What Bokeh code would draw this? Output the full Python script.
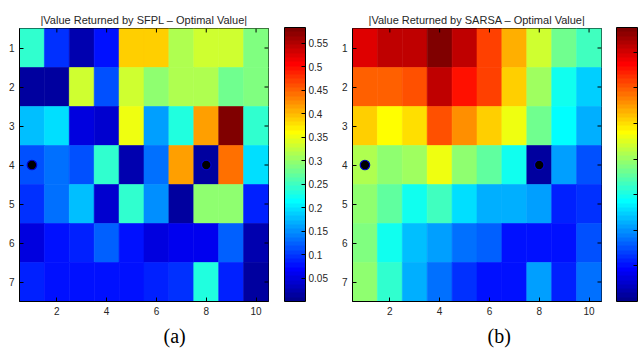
import numpy as np
from bokeh.plotting import figure
from bokeh.models import (LinearColorMapper, ColorBar, Range1d, FixedTicker,
                          Title, ColumnDataSource)
from bokeh.layouts import row
from bokeh.embed import file_html
from bokeh.resources import INLINE

# ---------------- data ----------------
cols = [1, 2, 3, 4, 5, 6, 7, 8, 9, 10]
rows_ = [1, 2, 3, 4, 5, 6, 7]

sfpl_err = [
    [0.245, 0.095, 0.020, 0.073, 0.385, 0.385, 0.315, 0.330, 0.330, 0.290],
    [0.012, 0.012, 0.330, 0.110, 0.330, 0.300, 0.315, 0.315, 0.277, 0.290],
    [0.180, 0.200, 0.047, 0.040, 0.350, 0.158, 0.233, 0.410, 0.580, 0.245],
    [0.110, 0.130, 0.115, 0.240, 0.025, 0.130, 0.415, 0.010, 0.440, 0.200],
    [0.095, 0.130, 0.175, 0.040, 0.245, 0.150, 0.010, 0.300, 0.300, 0.085],
    [0.050, 0.078, 0.090, 0.120, 0.073, 0.050, 0.060, 0.060, 0.120, 0.020],
    [0.090, 0.075, 0.075, 0.075, 0.075, 0.085, 0.095, 0.235, 0.085, 0.010],
]

sarsa_err = [
    [0.69, 0.71, 0.71, 0.77, 0.72, 0.62, 0.53, 0.44, 0.37, 0.33],
    [0.60, 0.60, 0.61, 0.72, 0.66, 0.62, 0.51, 0.40, 0.30, 0.25],
    [0.51, 0.48, 0.50, 0.61, 0.56, 0.51, 0.46, 0.37, 0.28, 0.22],
    [0.42, 0.39, 0.40, 0.46, 0.39, 0.35, 0.30, 0.02, 0.21, 0.15],
    [0.39, 0.35, 0.30, 0.33, 0.26, 0.22, 0.22, 0.21, 0.12, 0.13],
    [0.38, 0.30, 0.23, 0.21, 0.18, 0.16, 0.10, 0.10, 0.10, 0.15],
    [0.39, 0.32, 0.22, 0.18, 0.13, 0.10, 0.10, 0.21, 0.12, 0.17],
]

dot_x = [1, 8]
dot_y = [4, 4]

x_ticks = [2, 4, 6, 8, 10]
y_ticks = [1, 2, 3, 4, 5, 6, 7]

sfpl_cbar_ticks = [0.05, 0.1, 0.15, 0.2, 0.25, 0.3, 0.35, 0.4, 0.45, 0.5, 0.55]
sfpl_cbar_range = [0.0, 0.583]
sarsa_cbar_ticks = [0.1, 0.2, 0.3, 0.4, 0.5, 0.6, 0.7]
sarsa_cbar_range = [0.0, 0.77]

titles = ["|Value Returned by SFPL \u2013 Optimal Value|",
          "|Value Returned by SARSA \u2013 Optimal Value|"]
captions = ["(a)", "(b)"]


# ---------------- jet colormap (MATLAB, 64 levels) ----------------
def jet(m=64):
    n = int(np.ceil(m / 4))
    u = np.concatenate([np.arange(1, n + 1) / n, np.ones(n - 1), np.arange(n, 0, -1) / n])
    J = np.zeros((m, 3))
    off = int(np.ceil(n / 2)) - (1 if m % 4 == 1 else 0)
    for i, val in enumerate(u):
        g = off + i
        r = g + n
        b = g - n
        if 0 <= r < m:
            J[r, 0] = val
        if 0 <= g < m:
            J[g, 1] = val
        if 0 <= b < m:
            J[b, 2] = val
    return ["#%02x%02x%02x" % tuple(int(round(c * 255)) for c in rgb) for rgb in J]


JET = jet(64)
FONT = "Liberation Sans"
TXT = "#262626"

FRAME_W = 249
FRAME_H = 274
FIG_H = 352
TOP = 28
BOTTOM = FIG_H - TOP - FRAME_H
TICK_PX = 4


def panel(values, title, caption, rng, cticks, show_clabels, fig_w, left_b,
          cb_gap, cb_w, caption_offset):
    mapper = LinearColorMapper(palette=JET, low=rng[0], high=rng[1])
    xs, ys, vs = [], [], []
    for ri, r in enumerate(rows_):
        for ci, c in enumerate(cols):
            xs.append(c)
            ys.append(r)
            vs.append(values[ri][ci])
    src = ColumnDataSource(dict(x=xs, y=ys, v=vs))

    xr = Range1d(0.5, 10.5)
    yr = Range1d(7.5, 0.5)
    p = figure(width=fig_w, height=FIG_H, output_backend="svg", toolbar_location=None,
               x_range=xr, y_range=yr,
               min_border_left=left_b, min_border_right=fig_w - left_b - FRAME_W,
               min_border_top=TOP, min_border_bottom=BOTTOM)
    p.rect(x="x", y="y", width=1, height=1, source=src,
           fill_color={"field": "v", "transform": mapper},
           line_color={"field": "v", "transform": mapper}, line_width=0.6)
    p.scatter(dot_x, dot_y, size=9.5, fill_color="black", line_color="#0000c8",
              line_width=1.2)

    # inward tick marks on the top and right edges (box on)
    dx = TICK_PX / FRAME_W * (xr.end - xr.start)
    dy = TICK_PX / FRAME_H * (yr.start - yr.end)
    p.segment(x0=x_ticks, y0=[yr.end] * len(x_ticks), x1=x_ticks,
              y1=[yr.end + dy] * len(x_ticks), line_color="black", line_width=1)
    p.segment(x0=[xr.end] * len(y_ticks), y0=y_ticks, x1=[xr.end - dx] * len(y_ticks),
              y1=y_ticks, line_color="black", line_width=1)

    p.grid.visible = False
    p.outline_line_color = "black"
    p.outline_line_alpha = 1.0
    p.background_fill_color = "white"
    p.border_fill_color = "white"

    p.title.text = title
    p.title.align = "center"
    p.title.text_font = FONT
    p.title.text_font_size = "11px"
    p.title.text_font_style = "normal"
    p.title.text_color = TXT
    p.title.standoff = 6

    for ax, tk in ((p.xaxis[0], x_ticks), (p.yaxis[0], y_ticks)):
        ax.ticker = FixedTicker(ticks=tk)
        ax.major_tick_in = TICK_PX
        ax.major_tick_out = 0
        ax.minor_tick_line_color = None
        ax.axis_line_color = "black"
        ax.major_tick_line_color = "black"
        ax.major_label_text_font = FONT
        ax.major_label_text_font_size = "10px"
        ax.major_label_text_color = TXT
        ax.major_label_standoff = 5

    cb = ColorBar(color_mapper=mapper, ticker=FixedTicker(ticks=cticks),
                  location=(FRAME_W + cb_gap, 0), width=cb_w, height=FRAME_H,
                  padding=0, margin=0, bar_line_color="black", bar_line_width=1,
                  major_tick_in=4, major_tick_out=0, major_tick_line_color="black",
                  minor_tick_line_color=None,
                  major_label_text_font=FONT, major_label_text_font_size="10px",
                  major_label_text_color=TXT if show_clabels else None,
                  label_standoff=3, background_fill_alpha=0, border_line_color=None)
    p.add_layout(cb)

    cap = Title(text=caption, align="left", offset=caption_offset,
                text_font="Liberation Serif", text_font_size="20px",
                text_font_style="normal", text_color="black", standoff=11)
    p.add_layout(cap, "below")
    return p


left = panel(sfpl_err, titles[0], captions[0], sfpl_cbar_range, sfpl_cbar_ticks, True,
             332, 19, 16, 21, 144)
right = panel(sarsa_err, titles[1], captions[1], sarsa_cbar_range, sarsa_cbar_ticks, False,
              308, 20, 15, 21, 135)

layout = row(left, right)
open("out.html", "w").write(file_html(layout, INLINE))
